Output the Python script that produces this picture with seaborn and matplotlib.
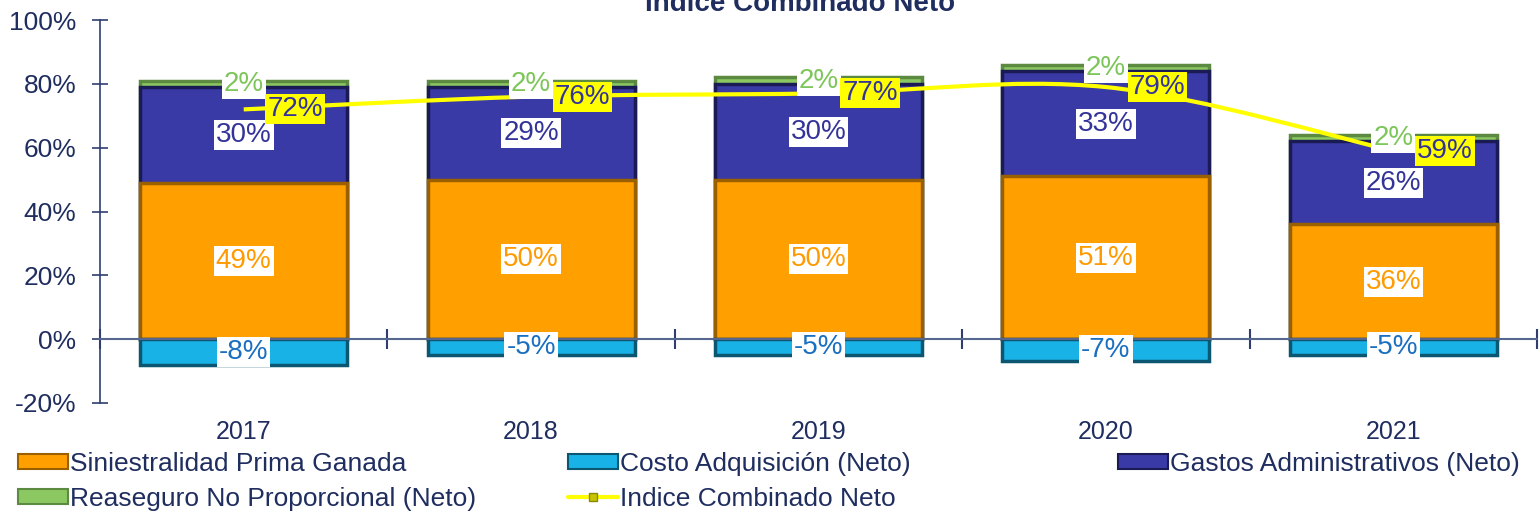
import numpy as np
import pandas as pd
import matplotlib
matplotlib.use("Agg")
import matplotlib.pyplot as plt
from matplotlib.path import Path
from matplotlib.patches import PathPatch, Patch
from matplotlib.lines import Line2D
import seaborn as sns

# data (percent)
years = ["2017", "2018", "2019", "2020", "2021"]
siniestralidad = [49, 50, 50, 51, 36]
costo = [-8, -5, -5, -7, -5]
gastos = [30, 29, 30, 33, 26]
reaseguro = [2, 2, 2, 2, 2]
indice = [72, 76, 77, 79, 59]

names = ["Siniestralidad Prima Ganada", "Costo Adquisición (Neto)",
         "Gastos Administrativos (Neto)", "Reaseguro No Proporcional (Neto)",
         "Indice Combinado Neto"]

c_orange, e_orange, t_orange = "#FFA000", "#9A6000", "#FF9A00"
c_cyan, e_cyan, t_cyan = "#19B2E6", "#0B5670", "#1A6FC0"
c_navy, e_navy, t_navy = "#3A3AA6", "#1A1A55", "#333399"
c_green, e_green, t_green = "#8CC862", "#5C8A40", "#7CC65A"
c_line = "#FFFF00"
c_text = "#1F2D5F"

sns.set_theme(style="white")
plt.rcParams["font.family"] = ["Liberation Sans", "DejaVu Sans"]

df = pd.DataFrame({"year": years, "sin": siniestralidad, "costo": costo,
                   "gastos": gastos, "rea": reaseguro, "indice": indice})
df["top_gastos"] = df["sin"] + df["gastos"]
df["top_rea"] = df["top_gastos"] + df["rea"]

fig = plt.figure(figsize=(15.39, 5.14), dpi=100)
ax = fig.add_axes([0.065, 0.216, 0.9337, 0.745])

# stacked bars, drawn back to front
bar_kw = dict(width=0.72, saturation=1, linewidth=2.5, ax=ax, zorder=2)
sns.barplot(data=df, x="year", y="top_rea", color=c_green, edgecolor=e_green, **bar_kw)
sns.barplot(data=df, x="year", y="top_gastos", color=c_navy, edgecolor=e_navy, **bar_kw)
sns.barplot(data=df, x="year", y="sin", color=c_orange, edgecolor=e_orange, **bar_kw)
sns.barplot(data=df, x="year", y="costo", color=c_cyan, edgecolor=e_cyan, **bar_kw)

# smoothed index line (Catmull-Rom style bezier through the data points)
pts = np.column_stack([np.arange(len(indice), dtype=float), np.array(indice, dtype=float)])
verts = [pts[0]]
codes = [Path.MOVETO]
for i in range(len(pts) - 1):
    p0 = pts[i - 1] if i > 0 else pts[i]
    p3 = pts[i + 2] if i + 2 < len(pts) else pts[i + 1]
    verts += [pts[i] + (pts[i + 1] - p0) / 6, pts[i + 1] - (p3 - pts[i]) / 6, pts[i + 1]]
    codes += [Path.CURVE4] * 3
ax.add_patch(PathPatch(Path(verts, codes), fc="none", ec=c_line, lw=3, zorder=4))

# data labels
box = dict(facecolor="white", edgecolor="none", pad=1.5)
lab_fs = 20
for i in range(len(years)):
    s, g, r, c = siniestralidad[i], gastos[i], reaseguro[i], costo[i]
    ax.text(i, s / 2, f"{s}%", ha="center", va="center", color=t_orange,
            fontsize=lab_fs, bbox=box, zorder=5)
    ax.text(i, s + g / 2, f"{g}%", ha="center", va="center", color=t_navy,
            fontsize=lab_fs, bbox=box, zorder=5)
    ax.text(i, s + g + r / 2, f"{r}%", ha="center", va="center", color=t_green,
            fontsize=lab_fs, bbox=box, zorder=5)
    ax.text(i, c / 2, f"{c}%", ha="center", va="center", color=t_cyan,
            fontsize=lab_fs, bbox=box, zorder=5)
    ax.annotate(f"{indice[i]}%", (i, indice[i]), xytext=(17, 0), textcoords="offset points",
                ha="left", va="center", color=t_navy, fontsize=lab_fs, zorder=6,
                bbox=dict(facecolor=c_line, edgecolor="none", pad=1.5))
    ax.annotate(years[i], (i, -20), xytext=(0, -21), textcoords="offset points",
                ha="center", va="center", color=c_text, fontsize=18, annotation_clip=False)

# axes styling
ax.set_xlim(-0.5, len(years) - 0.5)
ax.set_ylim(-20, 100)
ax.set_xlabel("")
ax.set_ylabel("")
ax.set_yticks(range(-20, 101, 20))
ax.set_yticklabels([f"{v}%" for v in range(-20, 101, 20)])
ax.set_xticks(np.arange(-0.5, len(years), 1.0))
ax.set_xticklabels([])
for side in ["top", "right"]:
    ax.spines[side].set_visible(False)
ax.spines["bottom"].set_position(("data", 0))
ax.spines["bottom"].set_color("#56668E")
ax.spines["bottom"].set_linewidth(1.5)
ax.spines["bottom"].set_zorder(3)
ax.spines["left"].set_color("#2F3E70")
ax.spines["left"].set_linewidth(1.2)
ax.tick_params(axis="y", direction="inout", length=12, width=1.2, color="#2F3E70",
               labelsize=19, labelcolor=c_text, pad=11, left=True)
ax.tick_params(axis="x", direction="inout", length=14, width=1.5, color="#2F3E70", bottom=True)

fig.text(0.52, 1 - 11 / 514, "Indice Combinado Neto", ha="center", va="baseline",
         fontsize=20, fontweight="bold", color=c_text)

# legend, laid out in three columns like the reference
handles = {
    names[0]: Patch(facecolor=c_orange, edgecolor=e_orange, linewidth=1.5),
    names[1]: Patch(facecolor=c_cyan, edgecolor=e_cyan, linewidth=1.5),
    names[2]: Patch(facecolor=c_navy, edgecolor=e_navy, linewidth=1.5),
    names[3]: Patch(facecolor=c_green, edgecolor=e_green, linewidth=1.5),
    names[4]: Line2D([], [], color=c_line, lw=3, marker="s", markersize=6,
                     markerfacecolor="#C8C400", markeredgecolor="#8A8A00"),
}
leg_kw = dict(loc="upper left", frameon=False, fontsize=19, handlelength=1.9,
              handleheight=0.5, handletextpad=0.1, labelspacing=0.42,
              borderaxespad=0, labelcolor=c_text)
for x0, cols in [(15, [names[0], names[3]]), (565, [names[1], names[4]]), (1115, [names[2]])]:
    fig.legend([handles[n] for n in cols], cols,
               bbox_to_anchor=((x0 - 8) / 1539, 1 - 441 / 514), **leg_kw)

fig.savefig("out.png", dpi=100)
